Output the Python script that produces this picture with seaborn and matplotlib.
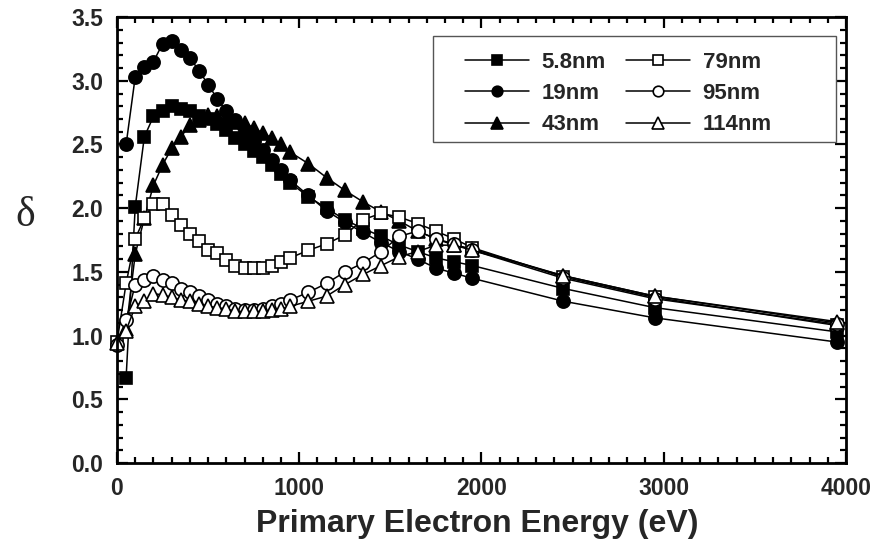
import matplotlib

matplotlib.use("Agg")
import matplotlib.pyplot as plt
import numpy as np
import pandas as pd
import seaborn as sns
from matplotlib.patches import Rectangle
from matplotlib.ticker import FormatStrFormatter, MultipleLocator

nan = np.nan

energy = [0, 50, 100, 150, 200, 250, 300, 350, 400, 450, 500, 550, 600, 650, 700, 750,
          800, 850, 900, 950, 1050, 1150, 1250, 1350, 1450, 1550, 1650, 1750, 1850, 1950,
          2450, 2950, 3950]

d_5p8 = [nan, 0.67, 2.01, 2.56, 2.72, 2.76, 2.80, 2.78, 2.76, 2.72, 2.70, 2.66, 2.61, 2.55, 2.50, 2.45,
         2.40, 2.34, 2.27, 2.20, 2.09, 2.00, 1.91, 1.84, 1.78, 1.71, 1.66, 1.61, 1.58, 1.55,
         1.37, 1.22, 1.03]
d_19 = [nan, 2.50, 3.03, 3.11, 3.15, 3.29, 3.31, 3.24, 3.18, 3.08, 2.97, 2.86, 2.76, 2.69, 2.60, 2.53,
        2.46, 2.38, 2.30, 2.22, 2.10, 1.98, 1.89, 1.81, 1.73, 1.66, 1.60, 1.53, 1.49, 1.45,
        1.27, 1.14, 0.95]
d_43 = [nan, 1.05, 1.64, 1.92, 2.18, 2.34, 2.47, 2.56, 2.65, 2.69, 2.73, 2.72, 2.69, 2.68, 2.67, 2.63,
        2.59, 2.55, 2.50, 2.44, 2.35, 2.24, 2.14, 2.05, 1.97, 1.90, 1.82, 1.76, 1.71, 1.68,
        1.47, 1.31, 1.10]
d_79 = [0.95, 1.41, 1.76, 1.92, 2.03, 2.03, 1.95, 1.87, 1.80, 1.74, 1.67, 1.65, 1.59, 1.55, 1.53, 1.53,
        1.53, 1.55, 1.58, 1.61, 1.67, 1.72, 1.79, 1.91, 1.96, 1.93, 1.88, 1.82, 1.76, 1.69,
        1.46, 1.30, 1.08]
d_95 = [0.93, 1.12, 1.40, 1.44, 1.47, 1.44, 1.41, 1.37, 1.34, 1.31, 1.28, 1.25, 1.23, 1.21, 1.20, 1.20,
        1.21, 1.23, 1.25, 1.28, 1.34, 1.41, 1.50, 1.57, 1.66, 1.78, 1.82, 1.76, 1.72, 1.67,
        1.45, 1.29, 1.09]
d_114 = [0.94, 1.04, 1.23, 1.27, 1.33, 1.32, 1.30, 1.28, 1.27, 1.25, 1.23, 1.22, 1.21, 1.19, 1.19, 1.19,
         1.19, 1.20, 1.21, 1.23, 1.27, 1.31, 1.40, 1.48, 1.55, 1.62, 1.66, 1.71, 1.71, 1.67,
         1.47, 1.31, 1.11]

labels = ["5.8nm", "19nm", "43nm", "79nm", "95nm", "114nm"]
series = [d_5p8, d_19, d_43, d_79, d_95, d_114]
markers = ["s", "o", "^", "s", "o", "^"]
filled = [True, True, True, False, False, False]
msize = {"s": 8.5, "o": 9.5, "^": 10}


def main() -> None:
    sns.set_theme(style="ticks")
    plt.rcParams["font.family"] = ["Liberation Sans", "DejaVu Sans"]
    plt.rcParams["font.weight"] = "bold"

    df = pd.concat(
        [pd.DataFrame({"energy": energy, "delta": vals, "film": lab}) for lab, vals in zip(labels, series)],
        ignore_index=True,
    ).dropna()

    fig = plt.figure(figsize=(8.77, 5.5), dpi=100)
    ax = fig.add_axes([0.1334, 0.158, 0.8312, 0.811])

    for lab, mk, fl in zip(labels, markers, filled):
        sub = df[df["film"] == lab]
        sns.lineplot(
            data=sub,
            x="energy",
            y="delta",
            ax=ax,
            color="black",
            linewidth=1.1,
            marker=mk,
            markersize=msize[mk],
            markerfacecolor="black" if fl else "white",
            markeredgecolor="black",
            markeredgewidth=1.2,
            label=lab,
            sort=False,
            clip_on=False,
        )

    ax.set_xlim(0, 4000)
    ax.set_ylim(0, 3.5)
    ax.xaxis.set_major_locator(MultipleLocator(1000))
    ax.xaxis.set_minor_locator(MultipleLocator(100))
    ax.yaxis.set_major_locator(MultipleLocator(0.5))
    ax.yaxis.set_minor_locator(MultipleLocator(0.1))
    ax.yaxis.set_major_formatter(FormatStrFormatter("%.1f"))
    ax.tick_params(which="both", direction="in", top=True, right=True, width=1.6, color="black")
    ax.tick_params(which="major", length=8, labelsize=16.5, pad=10)
    ax.tick_params(which="minor", length=4.5)
    for s in ax.spines.values():
        s.set_linewidth(2.0)
        s.set_color("black")
        s.set_zorder(5)
    for t in ax.get_xticklabels() + ax.get_yticklabels():
        t.set_fontweight("bold")

    ax.set_xlabel("Primary Electron Energy (eV)", fontsize=23, fontweight="bold")
    ax.xaxis.set_label_coords(0.494, -0.102)
    ax.set_ylabel("δ", fontsize=30, fontweight="normal", family=["Liberation Serif", "DejaVu Serif"],
                  rotation=0, va="center", ha="center")
    ax.yaxis.set_label_coords(-0.126, 0.554)

    # legend box drawn separately so horizontal padding can be wider than vertical
    ax.add_patch(Rectangle((0.4335, 0.7197), 0.5525, 0.2373, transform=ax.transAxes,
                           facecolor="white", edgecolor="#555555", linewidth=1.0, zorder=3))
    leg = ax.legend(
        ncol=2,
        loc="upper left",
        bbox_to_anchor=(0.4774, 0.922),
        frameon=False,
        prop={"size": 16, "weight": "bold"},
        handlelength=2.9,
        handletextpad=0.55,
        columnspacing=0.9,
        labelspacing=0.46,
        borderpad=0.0,
        borderaxespad=0.0,
        markerscale=0.8,
    )
    leg.set_zorder(4)

    fig.savefig("out.png", dpi=100)
    plt.close(fig)


if __name__ == "__main__":
    main()
